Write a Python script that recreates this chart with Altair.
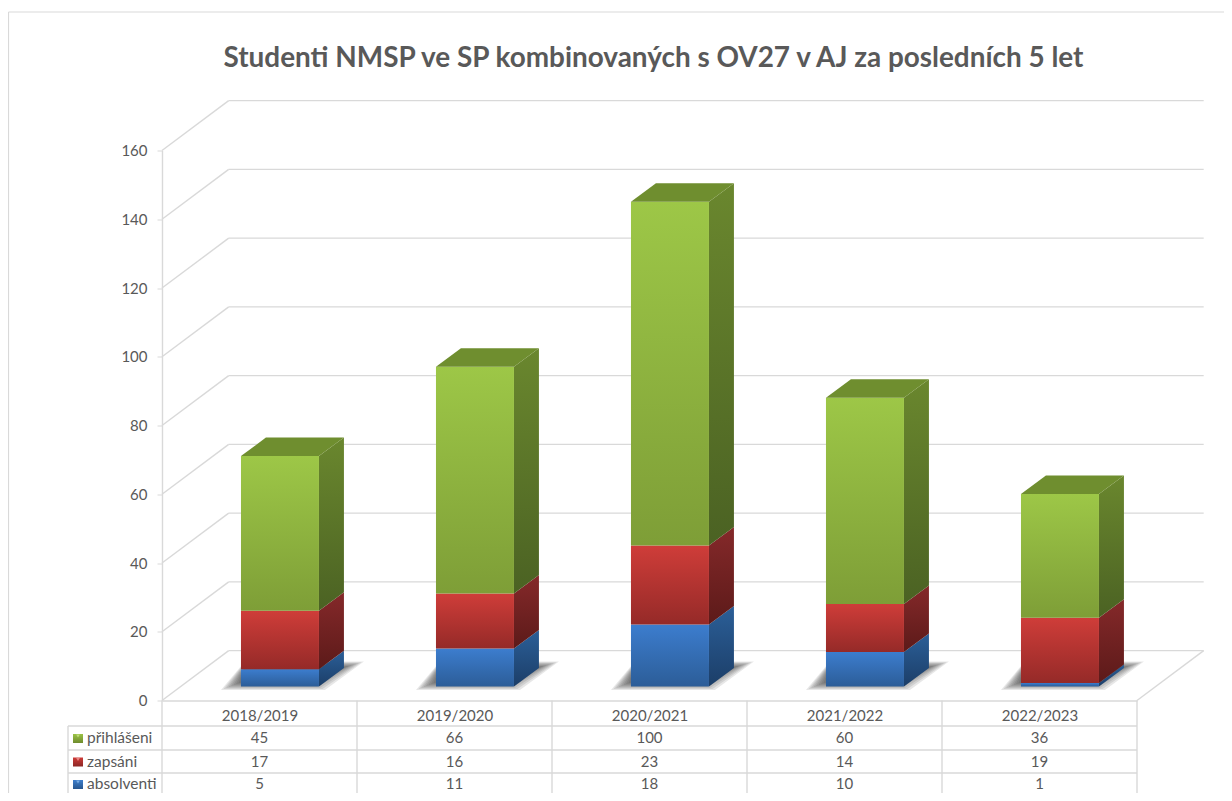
import json
import altair as alt

chart_title = "Studenti NMSP ve SP kombinovaných s OV27 v AJ za posledních 5 let"
years = ["2018/2019", "2019/2020", "2020/2021", "2021/2022", "2022/2023"]
applicants = [45, 66, 100, 60, 36]
enrolled = [17, 16, 23, 14, 19]
graduates = [5, 11, 18, 10, 1]
y_ticks = [0, 20, 40, 60, 80, 100, 120, 140, 160]

GRID = "#D9D9D9"
TEXT = "#595959"
FONT = "Lato"

# perspective constants, in data units (category steps / value units)
BAR_LEFT, BAR_W, BAR_BASE = 0.405, 0.40, 4.1
BAR_DX, BAR_DY = 0.128, 5.38
WALL_DX, WALL_DY = 0.342, 14.5
PX_X, PX_Y = 1 / 195.0, 1 / 3.44


def grad(c0, c1):
    return alt.Gradient(gradient="linear", x1=0, x2=0, y1=0, y2=1,
                        stops=[alt.GradientStop(color=c0, offset=0),
                               alt.GradientStop(color=c1, offset=1)])


series = [
    dict(name="absolventi", values=graduates, front=("#3C7DCE", "#2C5D98"),
         side=("#2B5F98", "#1C3E68"), top="#2F66A8", key=("#3F7FCC", "#28568E"), tri="#7FB0E4"),
    dict(name="zapsáni", values=enrolled, front=("#CF3D39", "#952A28"),
         side=("#85292A", "#5C1A19"), top="#8E2C2A", key=("#CE3B38", "#8C2725"), tri="#EE8F8C"),
    dict(name="přihlášeni", values=applicants, front=("#9DC747", "#7E9E37"),
         side=("#6A872E", "#4B6223"), top="#6F8E2F", key=("#9AC246", "#6F8C2E"), tri="#C4E07F"),
]

sx = alt.Scale(domain=[0, 5], nice=False, zero=False)
sy = alt.Scale(domain=[0, 160], nice=False, zero=False)


def X(f="x"):
    return alt.X(f"{f}:Q", scale=sx, title=None, stack=None)


def Y(f="y"):
    return alt.Y(f"{f}:Q", scale=sy, title=None, stack=None)


def data(rows):
    return alt.Data(values=rows)


layers = []

# axes
layers.append(alt.Chart(data([{"x": 0, "y": 0}])).mark_point(opacity=0).encode(
    x=alt.X("x:Q", scale=sx, title=None, axis=alt.Axis(
        values=[i + 0.5 for i in range(5)], labelExpr=f"{json.dumps(years)}[floor(datum.value)]",
        ticks=False, grid=False, domainColor=GRID, domainWidth=1.4, labelColor=TEXT, labelFont=FONT,
        labelFontSize=15, labelPadding=8, labelAngle=0, labelOverlap=False)),
    y=alt.Y("y:Q", scale=sy, title=None, axis=alt.Axis(
        values=y_ticks, grid=False, domainColor=GRID, domainWidth=1.4, tickColor=GRID, tickSize=5,
        labelColor=TEXT, labelFont=FONT, labelFontSize=15, labelPadding=10, format="d")),
))

# chart frame (top and left)
layers.append(alt.Chart(data([{"a": 1}])).mark_rule(color=GRID, strokeWidth=1.2).encode(
    x=alt.value(-153.5), x2=alt.value(1062), y=alt.value(-138.5)))
layers.append(alt.Chart(data([{"a": 1}])).mark_rule(color=GRID, strokeWidth=1.2).encode(
    x=alt.value(-153.5), y=alt.value(-138.5), y2=alt.value(642.5)))

# title
layers.append(alt.Chart(data([{"t": chart_title}])).mark_text(
    font=FONT, fontSize=27.9, fontWeight="bold", color=TEXT, baseline="middle", align="center").encode(
    x=alt.value(491.5), y=alt.value(-91.5), text="t:N"))

# back wall and the wall and floor diagonals
layers.append(alt.Chart(data([
    {"x": WALL_DX, "x2": 5 + WALL_DX, "y": v + WALL_DY} for v in y_ticks
])).mark_rule(color=GRID, strokeWidth=1.4).encode(x=X(), x2="x2:Q", y=Y()))
diag = []
for v in y_ticks:
    diag += [{"k": v, "x": 0, "y": v}, {"k": v, "x": WALL_DX, "y": v + WALL_DY}]
diag += [{"k": "r", "x": 5, "y": 0}, {"k": "r", "x": 5 + WALL_DX, "y": WALL_DY}]
layers.append(alt.Chart(data(diag)).mark_line(color=GRID, strokeWidth=1.4).encode(
    x=X(), y=Y(), detail="k:N"))

# soft floor shadows, built from nested translucent shapes
shadow_rows = []
for i in range(5):
    L = i + BAR_LEFT
    for lvl, inset in enumerate([0, 2.5, 5, 7.5, 10, 12.5, 15, 17.5]):
        grow = (20 - inset) * PX_X
        b = BAR_BASE - (3.5 - inset * 0.4) * PX_Y
        t = BAR_BASE + (25 - inset * 0.3) * PX_Y
        k = f"{i}-{lvl}"
        shadow_rows += [
            {"k": k, "y": b, "x": L - grow, "x2": L + BAR_W + (6 - inset) * PX_X},
            {"k": k, "y": t, "x": L + 4 * PX_X, "x2": L + BAR_W + BAR_DX + grow},
        ]
layers.append(alt.Chart(data(shadow_rows)).mark_area(orient="horizontal", color="#202020", opacity=0.11).encode(
    y=Y(), x=X(), x2="x2:Q", detail="k:N"))

# 3D bars
base = [BAR_BASE] * 5
for s in series:
    front, side, top = [], [], []
    for i, v in enumerate(s["values"]):
        L = i + BAR_LEFT
        R = L + BAR_W
        y0, y1 = base[i], base[i] + v
        front.append({"x": L, "x2": R, "y": y0, "y2": y1})
        side += [{"k": i, "x": R, "y": y0, "y2": y1},
                 {"k": i, "x": R + BAR_DX, "y": y0 + BAR_DY, "y2": y1 + BAR_DY}]
        top += [{"k": i, "y": y1, "x": L, "x2": R},
                {"k": i, "y": y1 + BAR_DY, "x": L + BAR_DX, "x2": R + BAR_DX}]
        base[i] = y1
    layers.append(alt.Chart(data(side)).mark_area(color=grad(*s["side"])).encode(
        x=X(), y=Y(), y2="y2:Q", detail="k:N"))
    layers.append(alt.Chart(data(front)).mark_rect(color=grad(*s["front"])).encode(
        x=X(), x2="x2:Q", y=Y(), y2="y2:Q"))
    if s is series[-1]:
        layers.append(alt.Chart(data(top)).mark_area(orient="horizontal", color=s["top"]).encode(
            y=Y(), x=X(), x2="x2:Q", detail="k:N"))

# data table
TOP = 550.0  # plot height in px
BOTTOM = 92.5
row_lines = [25.5, 49.5, 72.5]
row_centres = [37.5, 61, 83.5]
layers.append(alt.Chart(data([{"x": i} for i in range(6)])).mark_rule(color=GRID, strokeWidth=1.4).encode(
    x=X(), y=alt.value(TOP), y2=alt.value(TOP + BOTTOM)))
layers.append(alt.Chart(data([{"a": 1}])).mark_rule(color=GRID, strokeWidth=1.4).encode(
    x=alt.value(-94), y=alt.value(TOP + row_lines[0]), y2=alt.value(TOP + BOTTOM)))
for off in row_lines:
    layers.append(alt.Chart(data([{"x": 5}])).mark_rule(color=GRID, strokeWidth=1.4).encode(
        x=X(), x2=alt.value(-94), y=alt.value(TOP + off)))
for off, s in zip(row_centres, reversed(series)):
    rows = [{"x": i + 0.5, "t": str(v)} for i, v in enumerate(s["values"])]
    layers.append(alt.Chart(data(rows)).mark_text(font=FONT, fontSize=15, color=TEXT, baseline="middle").encode(
        x=X(), y=alt.value(TOP + off), text="t:N"))
    layers.append(alt.Chart(data([{"t": s["name"]}])).mark_text(
        font=FONT, fontSize=15.5, color=TEXT, baseline="middle", align="left").encode(
        x=alt.value(-75), y=alt.value(TOP + off), text="t:N"))
    layers.append(alt.Chart(data([{"a": 1}])).mark_rect(color=grad(*s["key"])).encode(
        x=alt.value(-89), x2=alt.value(-79), y=alt.value(TOP + off - 4), y2=alt.value(TOP + off + 5)))
    layers.append(alt.Chart(data([{"a": 1}])).mark_point(
        shape="triangle-down", filled=True, color=s["tri"], size=14, opacity=0.9).encode(
        x=alt.value(-84), y=alt.value(TOP + off - 2)))

chart = alt.layer(*layers).properties(
    width=975, height=550,
    autosize=alt.AutoSizeParams(type="none"),
    padding={"left": 154, "top": 142.5, "right": 87, "bottom": 92.5},
    background="white",
).configure_view(stroke=None)

chart.save("out.html", embed_options={"renderer": "svg", "actions": False})
